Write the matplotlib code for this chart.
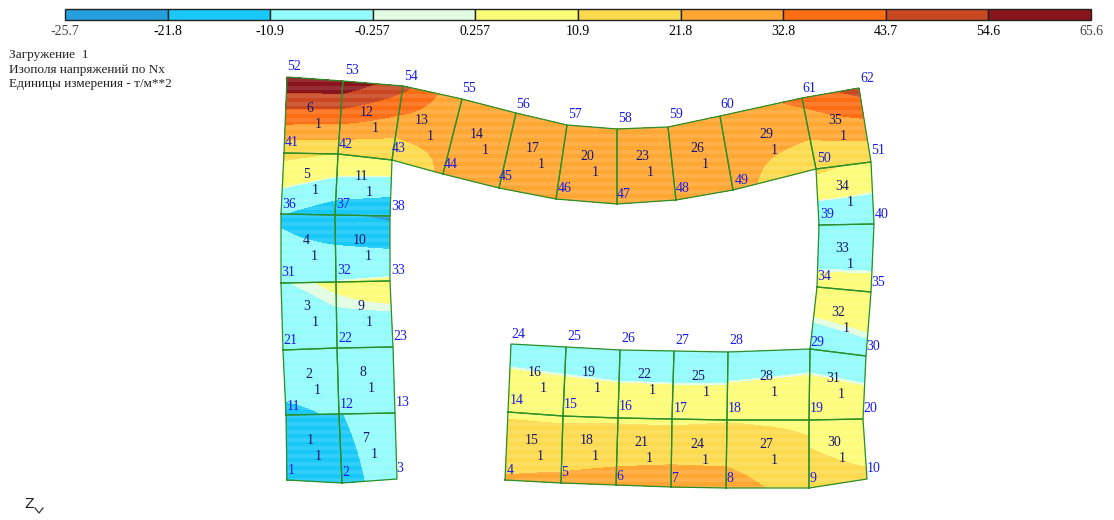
import numpy as np
import matplotlib
matplotlib.use("Agg")
import matplotlib.pyplot as plt
from matplotlib.path import Path
from matplotlib.patches import PathPatch

plt.rcParams['font.family'] = ['Liberation Serif', 'DejaVu Serif']

levels = [-25.7, -21.8, -10.9, -0.257, 0.257, 10.9, 21.8, 32.8, 43.7, 54.6, 65.6]
level_labels = ['-25.7', '-21.8', '-10.9', '-0.257', '0.257', '10.9', '21.8', '32.8', '43.7', '54.6', '65.6']
band_colors = ['#259FDD', '#18C8F8', '#94FBFB', '#E2FDE2', '#FCFC78', '#FCDA4E',
               '#FFA732', '#FB6E14', '#C94822', '#8A141C']

title_lines = ['Загружение  1', 'Изополя напряжений по Nx', 'Единицы измерения - т/м**2']

# node positions, node number = index + 1
node_x = [287, 342, 397, 505, 561, 616, 671, 726, 809, 867,
          286, 339, 395, 508, 563, 618, 672, 727, 809, 863,
          283, 337, 393, 511, 566, 620, 674, 728, 810, 866,
          281, 336, 390, 817, 871, 281, 335, 390, 819, 874,
          284, 338, 392, 443, 499, 556, 617, 676, 733, 816, 871,
          287, 343, 403, 462, 516, 567, 617, 668, 720, 802, 859]
node_y = [480, 483, 479, 480, 483, 485, 487, 488, 488, 479,
          415, 414, 413, 412, 416, 418, 419, 420, 420, 419,
          350, 348, 347, 344, 347, 350, 351, 352, 349, 356,
          283, 282, 281, 287, 292, 214, 215, 216, 225, 224,
          153, 154, 160, 174, 188, 199, 204, 200, 190, 169, 162,
          77, 81, 86, 99, 113, 125, 129, 127, 116, 98, 88]

# where the node numbers are printed
node_label_x = [291, 346, 400, 510, 565, 620, 675, 730, 813, 874,
                293, 347, 403, 517, 571, 626, 681, 735, 817, 870,
                290, 345, 400, 518, 574, 628, 682, 736, 817, 873,
                288, 344, 398, 824, 878, 289, 343, 398, 827, 882,
                292, 346, 399, 451, 506, 565, 624, 683, 742, 824, 878,
                294, 352, 411, 469, 523, 575, 625, 676, 727, 809, 867]
node_label_y = [470, 473, 469, 470, 473, 476, 478, 478, 478, 469,
                406, 404, 402, 401, 405, 407, 408, 409, 409, 408,
                340, 338, 337, 334, 336, 339, 340, 341, 343, 346,
                273, 271, 271, 277, 282, 204, 205, 206, 214, 214,
                142, 144, 149, 165, 177, 188, 194, 189, 180, 159, 151,
                67, 70, 76, 88, 104, 115, 118, 115, 105, 88, 78]

# element corners as node numbers: lower left, lower right, upper right, upper left
elements = [(1, 2, 12, 11), (11, 12, 22, 21), (21, 22, 32, 31), (31, 32, 37, 36), (36, 37, 42, 41),
            (41, 42, 53, 52), (2, 3, 13, 12), (12, 13, 23, 22), (22, 23, 33, 32), (32, 33, 38, 37),
            (37, 38, 43, 42), (42, 43, 54, 53), (43, 44, 55, 54), (44, 45, 56, 55), (4, 5, 15, 14),
            (14, 15, 25, 24), (45, 46, 57, 56), (5, 6, 16, 15), (15, 16, 26, 25), (46, 47, 58, 57),
            (6, 7, 17, 16), (16, 17, 27, 26), (47, 48, 59, 58), (7, 8, 18, 17), (17, 18, 28, 27),
            (48, 49, 60, 59), (8, 9, 19, 18), (18, 19, 29, 28), (49, 50, 61, 60), (9, 10, 20, 19),
            (19, 20, 30, 29), (29, 30, 35, 34), (34, 35, 40, 39), (39, 40, 51, 50), (50, 51, 62, 61)]

# stress at the same four corners
element_values = [(-22, -16, -11.5, -13), (-13, -9.9, -5, -3), (-3, -1.9, 0.7, -0.45), (-3, 0, -20, -13),
                  (-10.5, -18, 10.5, 14), (13, 11, 63.6, 65), (-16, -4, -4, -11.5), (-9.5, -4, -2.9, -1.9),
                  (-1.9, -2.9, 1.9, 0.7), (0.1, 1.5, -24, -20), (-18, -21.5, 9, 10.5), (11, 10.5, 47, 63.6),
                  (10.5, 24, 23, 47), (24, 27, 27, 23), (22.8, 24.3, 9.1, 9.5), (10, 8.5, -6, -5.5),
                  (27, 27, 27, 27), (24.3, 26.4, 9.4, 9.1), (8.5, 9, -8, -6), (27, 27, 27, 27),
                  (26.4, 28, 9, 9.4), (9, 9.5, -9, -8), (27, 27, 27, 27), (28, 27, 10.2, 9),
                  (9.5, 10, -9, -9), (27, 26, 26, 27), (27, 16, 9.3, 10.2), (10, 9.3, -5, -8),
                  (26, 11.5, 36, 23), (13.2, 11.8, 7.2, 9.3), (9.3, 7.2, -6, -5), (-2.7, -1.75, 3.6, 2.9),
                  (2.9, 3.6, -9, -8), (-10.4, -8.6, 8.3, 13), (11.5, 11, 48, 36)]

# printed element number and the "1" beside it
element_label_x = [310, 309, 307, 306, 307, 310, 366, 363, 361, 360, 361, 367, 422, 477, 532, 535, 533, 587,
                   589, 587, 641, 644, 642, 697, 698, 697, 766, 766, 766, 834, 833, 838, 842, 842, 835]
element_label_y = [441, 374, 307, 240, 175, 108, 439, 373, 307, 240, 177, 112, 121, 134, 440, 372, 148, 441,
                   373, 156, 443, 375, 156, 444, 377, 149, 445, 377, 134, 443, 378, 312, 248, 186, 121]

fig = plt.figure(figsize=(11.14, 5.2), dpi=100)
ax = fig.add_axes([0, 0, 1, 1])
ax.set_xlim(0, 1114)
ax.set_ylim(520, 0)
ax.axis('off')

node_x = np.array(node_x, dtype=float)
node_y = np.array(node_y, dtype=float)

s = np.linspace(0, 1, 40)
U, V = np.meshgrid(s, s)
outline_verts = []
outline_codes = []
for el, vals in zip(elements, element_values):
    i = np.array(el) - 1
    w = [(1 - U) * (1 - V), U * (1 - V), U * V, (1 - U) * V]
    X = sum(w[k] * node_x[i[k]] for k in range(4))
    Y = sum(w[k] * node_y[i[k]] for k in range(4))
    Z = sum(w[k] * vals[k] for k in range(4))
    ax.contourf(X, Y, Z, levels=levels, colors=band_colors, antialiased=False, zorder=1)
    outline_verts += list(zip(node_x[i], node_y[i])) + [(node_x[i[0]], node_y[i[0]])]
    outline_codes += [Path.MOVETO, Path.LINETO, Path.LINETO, Path.LINETO, Path.CLOSEPOLY]

# soft horizontal banding that the original raster has over the fill
mesh_path = Path(outline_verts, outline_codes)
clip = PathPatch(mesh_path, transform=ax.transData, fc='none', ec='none')
ax.add_patch(clip)
for y in np.arange(70, 495, 8):
    stripe = ax.axhspan(y, y + 4, color='white', alpha=0.11, lw=0, zorder=2)
    stripe.set_clip_path(clip)

for el in elements:
    i = np.array(el + (el[0],)) - 1
    ax.plot(node_x[i], node_y[i], color='#2A8F2A', lw=0.9, zorder=3, solid_joinstyle='miter')

for n, (x, y) in enumerate(zip(node_label_x, node_label_y)):
    ax.text(x, y, str(n + 1), color='#1A1AE6', fontsize=10, ha='center', va='center', zorder=4)
for n, (x, y) in enumerate(zip(element_label_x, element_label_y)):
    ax.text(x, y, str(n + 1), color='#16166E', fontsize=10, ha='center', va='center', zorder=4)
    ax.text(x + 8, y + 16, '1', color='#16166E', fontsize=10, ha='center', va='center', zorder=4)

# colour scale along the top, equal width per band
bar_left, bar_right = 65, 1091
edges = np.linspace(bar_left, bar_right, len(levels))
ax.barh(14.5, np.diff(edges), left=edges[:-1], height=11, color=band_colors,
        edgecolor='#222222', linewidth=1, zorder=3)
for k, (x, lab) in enumerate(zip(edges, level_labels)):
    end = k in (0, len(levels) - 1)
    ax.text(x, 31.5, lab, fontsize=10, ha='center', va='center', color='#444444' if end else 'black')

for k, line in enumerate(title_lines):
    ax.text(9, 55 + k * 14.5, line, fontsize=9.5, ha='left', va='center', color='#222222')

ax.text(29, 504, 'Z', fontsize=10, family='DejaVu Sans', ha='center', va='center', color='#222222')
ax.plot([35, 39, 43], [508, 513, 508], color='#333333', lw=0.9)

fig.savefig('out.png', dpi=100)
